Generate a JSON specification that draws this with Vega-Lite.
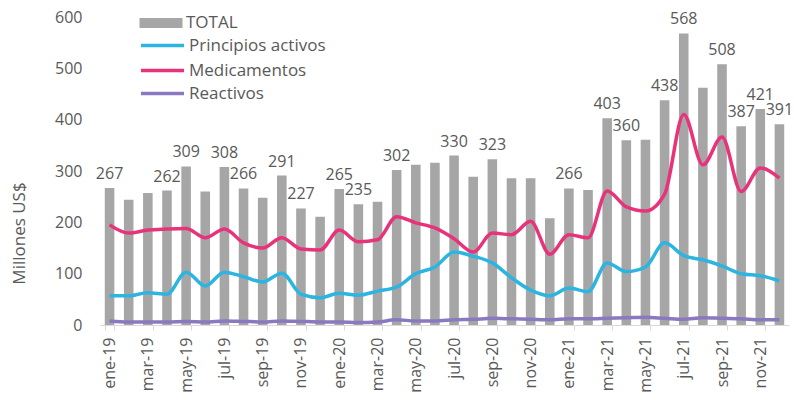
{
  "$schema": "https://vega.github.io/schema/vega-lite/v6.json",
  "autosize": {"type": "none"},
  "width": 689,
  "height": 308,
  "padding": {"left": 100, "top": 17, "right": 5, "bottom": 75},
  "background": "white",
  "config": {"font": "Open Sans", "view": {"stroke": null}},
  "data": {"values": [
    {"mes": "ene-19", "total": 267, "principios": 57, "medicamentos": 195, "reactivos": 8, "etiqueta": true},
    {"mes": "feb-19", "total": 244, "principios": 57, "medicamentos": 179, "reactivos": 6, "etiqueta": false},
    {"mes": "mar-19", "total": 257, "principios": 63, "medicamentos": 185, "reactivos": 6, "etiqueta": false},
    {"mes": "abr-19", "total": 262, "principios": 60, "medicamentos": 187, "reactivos": 6, "etiqueta": true},
    {"mes": "may-19", "total": 309, "principios": 103, "medicamentos": 188, "reactivos": 7, "etiqueta": true},
    {"mes": "jun-19", "total": 260, "principios": 76, "medicamentos": 170, "reactivos": 6, "etiqueta": false},
    {"mes": "jul-19", "total": 308, "principios": 103, "medicamentos": 187, "reactivos": 8, "etiqueta": true},
    {"mes": "ago-19", "total": 266, "principios": 94, "medicamentos": 160, "reactivos": 7, "etiqueta": true},
    {"mes": "sep-19", "total": 248, "principios": 84, "medicamentos": 150, "reactivos": 6, "etiqueta": false},
    {"mes": "oct-19", "total": 291, "principios": 101, "medicamentos": 170, "reactivos": 8, "etiqueta": true},
    {"mes": "nov-19", "total": 227, "principios": 60, "medicamentos": 148, "reactivos": 7, "etiqueta": true},
    {"mes": "dic-19", "total": 211, "principios": 53, "medicamentos": 146, "reactivos": 6, "etiqueta": false},
    {"mes": "ene-20", "total": 265, "principios": 62, "medicamentos": 185, "reactivos": 6, "etiqueta": true},
    {"mes": "feb-20", "total": 235, "principios": 58, "medicamentos": 162, "reactivos": 5, "etiqueta": true},
    {"mes": "mar-20", "total": 240, "principios": 66, "medicamentos": 166, "reactivos": 6, "etiqueta": false},
    {"mes": "abr-20", "total": 302, "principios": 74, "medicamentos": 211, "reactivos": 10, "etiqueta": true},
    {"mes": "may-20", "total": 312, "principios": 100, "medicamentos": 199, "reactivos": 8, "etiqueta": false},
    {"mes": "jun-20", "total": 316, "principios": 113, "medicamentos": 189, "reactivos": 8, "etiqueta": false},
    {"mes": "jul-20", "total": 330, "principios": 142, "medicamentos": 168, "reactivos": 10, "etiqueta": true},
    {"mes": "ago-20", "total": 289, "principios": 134, "medicamentos": 142, "reactivos": 11, "etiqueta": false},
    {"mes": "sep-20", "total": 323, "principios": 121, "medicamentos": 179, "reactivos": 13, "etiqueta": true},
    {"mes": "oct-20", "total": 286, "principios": 92, "medicamentos": 176, "reactivos": 12, "etiqueta": false},
    {"mes": "nov-20", "total": 286, "principios": 68, "medicamentos": 202, "reactivos": 11, "etiqueta": false},
    {"mes": "dic-20", "total": 208, "principios": 57, "medicamentos": 138, "reactivos": 10, "etiqueta": false},
    {"mes": "ene-21", "total": 266, "principios": 72, "medicamentos": 176, "reactivos": 12, "etiqueta": true},
    {"mes": "feb-21", "total": 263, "principios": 65, "medicamentos": 170, "reactivos": 12, "etiqueta": false},
    {"mes": "mar-21", "total": 403, "principios": 121, "medicamentos": 261, "reactivos": 13, "etiqueta": true},
    {"mes": "abr-21", "total": 360, "principios": 104, "medicamentos": 230, "reactivos": 14, "etiqueta": true},
    {"mes": "may-21", "total": 361, "principios": 113, "medicamentos": 222, "reactivos": 15, "etiqueta": false},
    {"mes": "jun-21", "total": 438, "principios": 160, "medicamentos": 255, "reactivos": 13, "etiqueta": true},
    {"mes": "jul-21", "total": 568, "principios": 135, "medicamentos": 410, "reactivos": 11, "etiqueta": true},
    {"mes": "ago-21", "total": 462, "principios": 127, "medicamentos": 312, "reactivos": 14, "etiqueta": false},
    {"mes": "sep-21", "total": 508, "principios": 115, "medicamentos": 366, "reactivos": 13, "etiqueta": true},
    {"mes": "oct-21", "total": 387, "principios": 100, "medicamentos": 260, "reactivos": 12, "etiqueta": true},
    {"mes": "nov-21", "total": 421, "principios": 96, "medicamentos": 306, "reactivos": 10, "etiqueta": true},
    {"mes": "dic-21", "total": 391, "principios": 86, "medicamentos": 286, "reactivos": 10, "etiqueta": true}
  ]},
  "encoding": {
    "x": {
      "field": "mes", "type": "nominal", "sort": null,
      "scale": {"paddingInner": 0.5, "paddingOuter": 0.25},
      "axis": {
        "title": null,
        "values": ["ene-19","mar-19","may-19","jul-19","sep-19","nov-19","ene-20","mar-20","may-20","jul-20","sep-20","nov-20","ene-21","mar-21","may-21","jul-21","sep-21","nov-21"],
        "labelAngle": -90, "labelAlign": "right", "labelBaseline": "middle",
        "labelFontSize": 16, "labelColor": "#595959", "labelPadding": 7,
        "domainColor": "#d9d9d9", "tickColor": "#d9d9d9", "tickSize": 5, "tickBand": "extent",
        "grid": false
      }
    }
  },
  "resolve": {"scale": {"stroke": "independent"}, "legend": {"stroke": "independent"}},
  "layer": [
    {
      "mark": {"type": "bar", "color": "#a6a6a6"},
      "encoding": {
        "y": {
          "field": "total", "type": "quantitative",
          "scale": {"domain": [0, 600]},
          "axis": {
            "title": "Millones  US$", "titleFontSize": 17, "titleFontWeight": "normal", "titleColor": "#595959", "titlePadding": 26, "titleY": 216,
            "values": [0, 100, 200, 300, 400, 500, 600],
            "labelFontSize": 16, "labelColor": "#595959", "labelPadding": 18,
            "domain": false, "ticks": false, "grid": false
          }
        },
        "fill": {
          "datum": "TOTAL", "type": "nominal",
          "scale": {"range": ["#a6a6a6"]},
          "legend": {
            "title": null, "orient": "none", "legendX": 39, "legendY": -16,
            "symbolType": "M-1,-0.23H1V0.23H-1Z", "symbolSize": 1850, "symbolStrokeWidth": 0,
            "labelFontSize": 17, "labelColor": "#595959", "labelOffset": 3
          }
        }
      }
    },
    {
      "transform": [{"filter": "datum.etiqueta"}],
      "mark": {"type": "text", "baseline": "bottom", "dy": -6, "fontSize": 16, "color": "#595959"},
      "encoding": {
        "y": {"field": "total", "type": "quantitative"},
        "text": {"field": "total", "type": "quantitative"}
      }
    },
    {
      "mark": {"type": "line", "interpolate": "monotone", "strokeWidth": 3.5},
      "encoding": {
        "y": {"field": "principios", "type": "quantitative"},
        "stroke": {
          "datum": "Principios activos", "type": "nominal",
          "scale": {"range": ["#2bb5e0"]},
          "legend": {
            "title": null, "orient": "none", "legendX": 39, "legendY": 5,
            "symbolType": "stroke", "symbolSize": 1850, "symbolStrokeWidth": 3.5,
            "labelFontSize": 17, "labelColor": "#595959", "labelOffset": 3
          }
        }
      }
    },
    {
      "mark": {"type": "line", "interpolate": "monotone", "strokeWidth": 3.5},
      "encoding": {
        "y": {"field": "medicamentos", "type": "quantitative"},
        "stroke": {
          "datum": "Medicamentos", "type": "nominal",
          "scale": {"range": ["#e8337a"]},
          "legend": {
            "title": null, "orient": "none", "legendX": 39, "legendY": 30,
            "symbolType": "stroke", "symbolSize": 1850, "symbolStrokeWidth": 3.5,
            "labelFontSize": 17, "labelColor": "#595959", "labelOffset": 3
          }
        }
      }
    },
    {
      "mark": {"type": "line", "interpolate": "monotone", "strokeWidth": 3.5},
      "encoding": {
        "y": {"field": "reactivos", "type": "quantitative"},
        "stroke": {
          "datum": "Reactivos", "type": "nominal",
          "scale": {"range": ["#8a79c0"]},
          "legend": {
            "title": null, "orient": "none", "legendX": 39, "legendY": 53,
            "symbolType": "stroke", "symbolSize": 1850, "symbolStrokeWidth": 3.5,
            "labelFontSize": 17, "labelColor": "#595959", "labelOffset": 3
          }
        }
      }
    }
  ]
}
